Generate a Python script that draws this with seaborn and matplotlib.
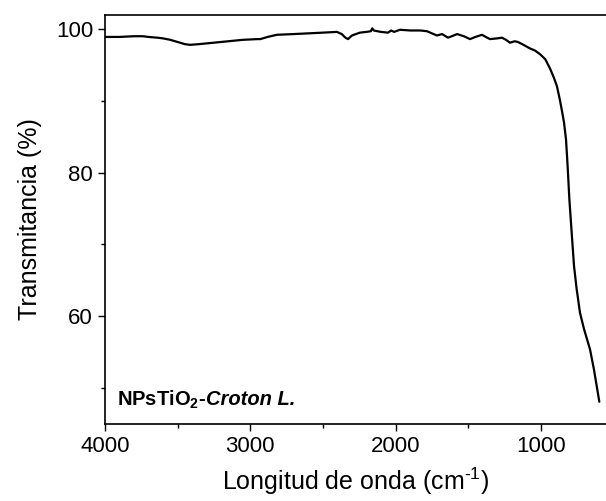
import matplotlib
matplotlib.use("Agg")
import matplotlib.pyplot as plt
import seaborn as sns
import pandas as pd
from matplotlib.ticker import MultipleLocator

# FTIR spectrum
wavenumber = [4000, 3900, 3800, 3740, 3700, 3640, 3600, 3550, 3500, 3450,
              3415, 3350, 3250, 3150, 3050, 2950, 2930, 2880, 2816, 2700,
              2600, 2500, 2403, 2370, 2345, 2327, 2300, 2245, 2200, 2170,
              2160, 2150, 2100, 2052, 2030, 2010, 1970, 1900, 1830, 1784,
              1750, 1715, 1680, 1639, 1600, 1577, 1530, 1488, 1450, 1405,
              1370, 1350, 1300, 1268, 1240, 1213, 1180, 1158, 1120, 1075,
              1040, 1006, 970, 937, 910, 889, 869, 855, 841, 827,
              816, 804, 788, 772, 754, 731, 703, 662, 635, 616, 598]
transmittance = [98.9, 98.9, 99.0, 99.0, 98.9, 98.8, 98.7, 98.5, 98.2, 97.9,
                 97.8, 97.9, 98.1, 98.3, 98.5, 98.6, 98.6, 98.9, 99.2, 99.3,
                 99.4, 99.5, 99.6, 99.3, 98.8, 98.6, 99.1, 99.5, 99.6, 99.7,
                 100.1, 99.8, 99.6, 99.5, 99.8, 99.6, 99.9, 99.8, 99.8, 99.7,
                 99.4, 99.1, 99.3, 98.8, 99.1, 99.3, 99.0, 98.6, 98.9, 99.2,
                 98.8, 98.6, 98.7, 98.8, 98.5, 98.1, 98.3, 98.2, 97.8, 97.3,
                 97.0, 96.5, 95.8, 94.5, 93.2, 92.0, 90.1, 88.6, 87.0, 84.6,
                 80.9, 76.3, 71.6, 67.0, 63.8, 60.5, 58.2, 55.4, 52.6, 50.3, 48.1]

sample_name = "NPsTiO$\\mathregular{_2}$-"
sample_species = "Croton L."

sns.set_style("ticks")
plt.rcParams["font.family"] = ["Liberation Sans", "DejaVu Sans"]
plt.rcParams["axes.unicode_minus"] = False
plt.rcParams["text.color"] = "black"
plt.rcParams["axes.labelcolor"] = "black"

df = pd.DataFrame({"wn": wavenumber, "T": transmittance})

fig = plt.figure(figsize=(6.06, 5.01), dpi=100)
ax = fig.add_axes([0.173, 0.1537, 0.827, 0.817])

sns.lineplot(data=df, x="wn", y="T", sort=False, color="black", lw=1.6, ax=ax)

ax.set_xlim(4000, 552)
ax.set_ylim(45, 102)
ax.xaxis.set_major_locator(MultipleLocator(1000))
ax.xaxis.set_minor_locator(MultipleLocator(500))
ax.yaxis.set_major_locator(MultipleLocator(20))
ax.yaxis.set_minor_locator(MultipleLocator(10))
ax.tick_params(which="major", direction="out", length=5, width=1, labelsize=16, colors="black")
ax.tick_params(which="minor", direction="out", length=3, width=1, colors="black")

for side in ["left", "bottom", "top"]:
    ax.spines[side].set_visible(True)
    ax.spines[side].set_linewidth(1.2)
    ax.spines[side].set_color("black")
ax.spines["right"].set_visible(False)

ax.set_xlabel("Longitud de onda (cm$\\mathregular{^{\u20101}}$)", fontsize=18, labelpad=6)
ax.set_ylabel("Transmitancia (%)", fontsize=18, labelpad=10)

t1 = ax.text(0.024, 0.06, sample_name, transform=ax.transAxes, fontsize=14.5,
             fontweight="bold", va="center", ha="left", color="black")
ax.annotate(sample_species, xy=(1, 0.5), xycoords=t1, xytext=(0, 0),
            textcoords="offset points", fontsize=14.5, fontweight="bold",
            fontstyle="italic", va="center", ha="left", color="black")

fig.savefig("out.png", dpi=100)
plt.close(fig)
